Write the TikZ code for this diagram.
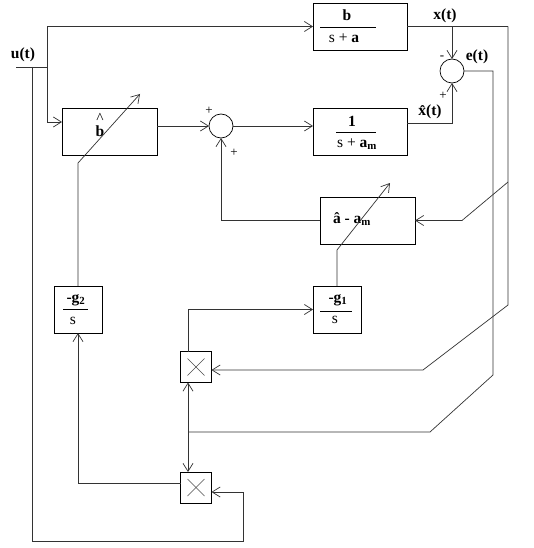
\documentclass[tikz,border=0pt]{standalone}
\usepackage{fontspec}
\setmainfont{Liberation Serif}
\usetikzlibrary{arrows.meta,calc}
\begin{document}
\begin{tikzpicture}[x=1pt,y=-1pt,
  every node/.style={inner sep=0pt,outer sep=0pt,font=\fontsize{15.5}{17}\selectfont\bfseries},
  blk/.style={draw,line width=0.7pt,minimum height=47pt,minimum width=#1},
  sumc/.style={draw,circle,line width=0.7pt,minimum size=24pt},
  mul/.style={draw,line width=0.7pt,minimum size=31pt},
  ln/.style={line width=0.7pt,black!80},
  arr/.style={ln,-{Straight Barb[length=8pt,width=10pt,line width=0.7pt]}},
  sgn/.style={font=\fontsize{13}{15}\selectfont},
  rg/.style={font=\fontsize{15.5}{17}\selectfont\mdseries}
]
\useasboundingbox (0,0) rectangle (534,548);
\fill[white] (0,0) rectangle (534,548);

% blocks
\node[blk=95pt] (B) at (109.5,131.5) {};
\node[blk=94pt] (G) at (360,26.5) {};
\node[blk=94pt] (M) at (360,131.5) {};
\node[blk=95pt] (A) at (367.5,220.5) {};
\node[blk=48pt] (g1) at (337,309.5) {};
\node[blk=48pt] (g2) at (78,309.5) {};
\node[mul] (m1) at (196,367) {};
\node[mul] (m2) at (196,487.5) {};
\node[sumc] (S1) at (221,126) {};
\node[sumc] (S2) at (452,71) {};

% block texts
\node[align=center] (Bt) at (100,125) {{\mdseries\textasciicircum}\\[-4pt]b};
\node (Gn) at (347,15) {b};
\node (Gd) at (344,38) {\mdseries s + \bfseries a};
\draw[line width=0.6pt] (320,27) -- (376,27);
\node (Mn) at (352,121) {1};
\node (Md) at (357,144) {\mdseries s + \bfseries a\textsubscript{m}};
\draw[line width=0.6pt] (336,132) -- (376,132);
\node (At) at (352,219) {\^{a} - a\textsubscript{m}};
\node (g1n) at (338,300) {-g\textsubscript{1}};
\node[rg] (g1d) at (335,320) {s};
\draw[line width=0.6pt] (320,311) -- (352,311);
\node (g2n) at (76,300) {-g\textsubscript{2}};
\node[rg] (g2d) at (73,321) {s};
\draw[line width=0.6pt] (63,309) -- (88,309);

% multiplier crosses
\foreach \m in {m1,m2}{
  \draw[line width=0.6pt,black!70] ($(\m.north west)+(7,7)$) -- ($(\m.south east)+(-7,-7)$);
  \draw[line width=0.6pt,black!70] ($(\m.south west)+(7,-7)$) -- ($(\m.north east)+(-7,7)$);
}

% labels
\node (ul) at (23,55) {u(t)};
\node (xl) at (445,16) {x(t)};
\node (el) at (477,57) {e(t)};
\node (xhl) at (430,112) {\^{x}(t)};
\node[sgn] at (209,111) {+};
\node[sgn] at (234,153) {+};
\node[sgn] at (442,58) {-};
\node[sgn] at (443,96) {+};

% coordinates
\coordinate (uin) at (16,67);
\coordinate (j0) at (32,67);
\coordinate (j1) at (47,67);
\coordinate (xr) at (508,26.5);
\coordinate (xd) at (508,305);
\coordinate (xd2) at (423,370);
\coordinate (xa) at (508,182);
\coordinate (xa2) at (462,220.5);
\coordinate (ed) at (493,375);
\coordinate (ed2) at (430,432);
\coordinate (jx) at (188,432);
\coordinate (ga) at (337,250);
\coordinate (gb) at (390,183);
\coordinate (gc) at (78,163);
\coordinate (gd) at (140,94);
\coordinate (bl) at (243,541);
\coordinate (m2in) at ($(m2.east)+(0,4.5)$);
\coordinate (m2out) at ($(m2.west)+(0,-4.5)$);
\coordinate (Bin) at ($(B.west)+(0,-9.5)$);
\coordinate (Mout) at ($(M.east)+(0,-8.5)$);

% connectors
\draw[ln] (uin) -- (j1);
\draw[arr] (j1) |- (G.west);
\draw[arr] (j1) |- (Bin);
\draw[arr] (B.east |- S1.west) -- (S1.west);
\draw[arr] (S1.east) -- (M.west |- S1.east);
\draw[ln] (G.east) -- (xr);
\draw[arr] (xr) -- (xd) -- (xd2) -- (xd2 -| m1.east);
\draw[arr] (G.east -| S2.north) -- (S2.north);
\draw[arr] (Mout) -| (S2.south);
\draw[ln] (S2.east) -| (ed) -- (ed2) -- (jx);
\draw[arr] (jx) -- (jx |- m1.south);
\draw[arr] (jx) -- (jx |- m2.north);
\draw[arr] (xa) -- (xa2) -- (A.east);
\draw[arr] (A.west) -| (S1.south);
\draw[arr] (g1.north) -- (ga) -- (gb);
\draw[arr] (g2.north) -- (gc) -- (gd);
\draw[arr] (jx |- m1.north) |- (g1.west);
\draw[arr] (m2out) -| (g2.south);
\draw[arr] (j0) |- (bl) -- (bl |- m2in) -- (m2in);
\end{tikzpicture}
\end{document}
